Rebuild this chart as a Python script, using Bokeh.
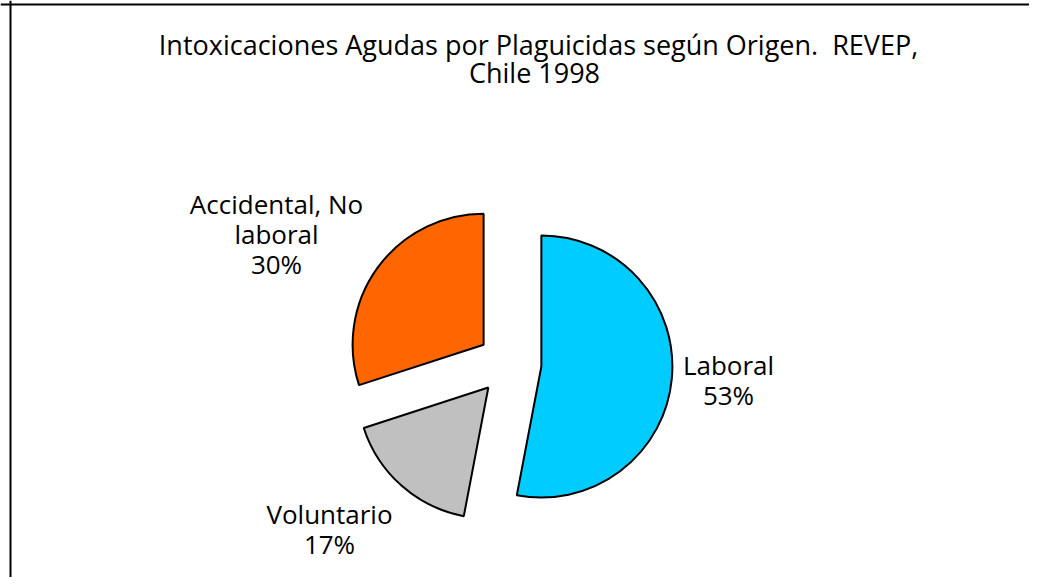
import math
from bokeh.plotting import figure
from bokeh.models import Range1d, Span
from bokeh.core.properties import value
from bokeh.embed import file_html
from bokeh.resources import INLINE

# ---- data ----
categories = ["Laboral", "Voluntario", "Accidental, No laboral"]
percent = [53, 17, 30]
label_lines = [["Laboral", "53%"], ["Voluntario", "17%"], ["Accidental, No", "laboral", "30%"]]
title_lines = ["Intoxicaciones Agudas por Plaguicidas según Origen.\u00a0 REVEP,", "Chile 1998"]

# ---- style / layout ----
colors = ["#00CCFF", "#C0C0C0", "#FF6600"]
W, H = 1029, 577
CX, CY = 509, 214          # pie centre (pixels, y up)
R = 131                    # radius
EXPLODE = 32               # explode distance
LINE_H = 30
label_anchor = [(728, 213), (329, 64), (276, 374)]   # first-line centre of each label
title_anchor = [(538, 533), (534, 505)]
FONT = "Open Sans"
FS = "26px"
TFS = "27px"

p = figure(width=W, height=H, output_backend="svg", toolbar_location=None,
           x_range=Range1d(0, W), y_range=Range1d(0, H), min_border=0)
p.axis.visible = False
p.grid.visible = False
p.outline_line_color = None
p.background_fill_color = "white"
p.add_layout(Span(location=10, dimension="height", line_color="black", line_width=2))
p.add_layout(Span(location=H - 4, dimension="width", line_color="black", line_width=2))

total = sum(percent)
cum = 0.0
xs, ys, starts, ends = [], [], [], []
for v in percent:
    t1 = cum / total * 2 * math.pi          # clockwise from 12 o'clock
    cum += v
    t2 = cum / total * 2 * math.pi
    mid = (t1 + t2) / 2
    xs.append(CX + EXPLODE * math.sin(mid))
    ys.append(CY + EXPLODE * math.cos(mid))
    starts.append(math.pi / 2 - t2)
    ends.append(math.pi / 2 - t1)

p.wedge(x=xs, y=ys, radius=R, start_angle=starts, end_angle=ends,
        fill_color=colors, line_color="black", line_width=2)

for lines, (ax, ay) in zip(label_lines, label_anchor):
    p.text(x=[ax] * len(lines), y=[ay - i * LINE_H for i in range(len(lines))], text=lines,
           text_align="center", text_baseline="middle", text_font=value(FONT),
           text_font_size=FS, text_color="black")

p.text(x=[a[0] for a in title_anchor], y=[a[1] for a in title_anchor], text=title_lines,
       text_align="center", text_baseline="middle", text_font=value(FONT),
       text_font_size=TFS, text_color="black")

open("out.html", "w").write(file_html(p, INLINE))
